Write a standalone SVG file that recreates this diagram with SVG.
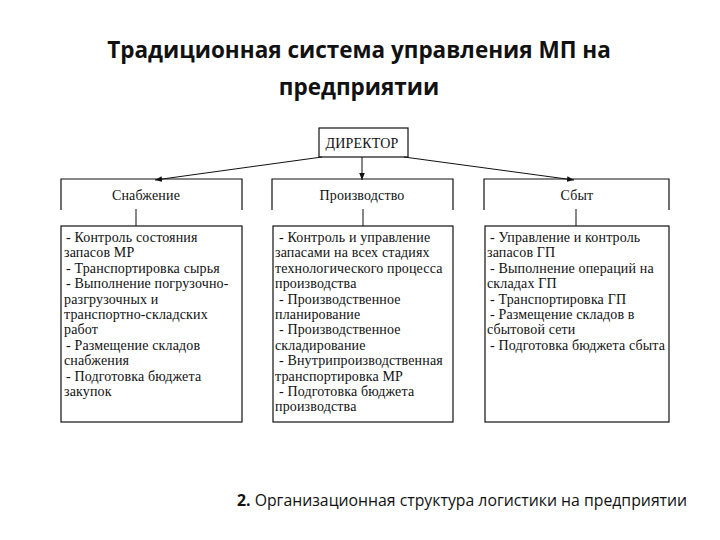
<svg xmlns="http://www.w3.org/2000/svg" width="720" height="540" viewBox="0 0 720 540">
<style>
.title{font-family:"Open Sans","Liberation Sans",sans-serif;font-weight:bold;font-size:22.5px;fill:#111;text-anchor:middle}
.cap{font-family:"Open Sans","Liberation Sans",sans-serif;font-size:15.8px;fill:#111}
.lbl{font-family:"Liberation Serif","DejaVu Serif",serif;font-size:14px;letter-spacing:0.15px;fill:#111}
.ctr{text-anchor:middle}
.box{fill:none;stroke:#111;stroke-width:1.2}
.ln{fill:none;stroke:#111;stroke-width:1}
</style>
<defs>
<marker id="ah" viewBox="0 0 10 10" refX="10" refY="5" markerWidth="7" markerHeight="7" orient="auto" markerUnits="userSpaceOnUse">
<path d="M0,1 L10,5 L0,9 z" fill="#111"/>
</marker>
</defs>
<rect width="720" height="540" fill="#fff"/>
<text class="title" x="359" y="58">Традиционная система управления МП на</text>
<text class="title" x="359" y="95">предприятии</text>

<g id="director">
<rect class="box" x="319" y="128" width="89" height="29"/>
<text class="lbl ctr" x="362" y="148">ДИРЕКТОР</text>
</g>

<g id="supply">
<path class="box" d="M61,210 V179 H242 V210"/>
<text class="lbl ctr" x="146" y="200">Снабжение</text>
<rect class="box" x="61" y="226" width="181" height="196"/>
<text class="lbl" y="242">
<tspan x="66">- Контроль состояния</tspan>
<tspan x="64" dy="15.4">запасов МР</tspan>
<tspan x="66" dy="15.4">- Транспортировка сырья</tspan>
<tspan x="66" dy="15.4">- Выполнение погрузочно-</tspan>
<tspan x="64" dy="15.4">разгрузочных и</tspan>
<tspan x="64" dy="15.4">транспортно-складских</tspan>
<tspan x="64" dy="15.4">работ</tspan>
<tspan x="66" dy="15.4">- Размещение складов</tspan>
<tspan x="64" dy="15.4">снабжения</tspan>
<tspan x="66" dy="15.4">- Подготовка бюджета</tspan>
<tspan x="64" dy="15.4">закупок</tspan>
</text>
</g>

<g id="production">
<path class="box" d="M272,210 V179 H453 V210"/>
<text class="lbl ctr" x="362" y="200">Производство</text>
<rect class="box" x="273" y="226" width="180" height="196"/>
<text class="lbl" y="242">
<tspan x="279">- Контроль и управление</tspan>
<tspan x="275" dy="15.4">запасами на всех стадиях</tspan>
<tspan x="275" dy="15.4">технологического процесса</tspan>
<tspan x="275" dy="15.4">производства</tspan>
<tspan x="279" dy="15.4">- Производственное</tspan>
<tspan x="275" dy="15.4">планирование</tspan>
<tspan x="279" dy="15.4">- Производственное</tspan>
<tspan x="275" dy="15.4">складирование</tspan>
<tspan x="279" dy="15.4">- Внутрипроизводственная</tspan>
<tspan x="275" dy="15.4">транспортировка МР</tspan>
<tspan x="279" dy="15.4">- Подготовка бюджета</tspan>
<tspan x="275" dy="15.4">производства</tspan>
</text>
</g>

<g id="sales">
<path class="box" d="M484,210 V179 H669 V210"/>
<text class="lbl ctr" x="577" y="200">Сбыт</text>
<rect class="box" x="485" y="226" width="184" height="196"/>
<text class="lbl" y="242">
<tspan x="490">- Управление и контроль</tspan>
<tspan x="487" dy="15.4">запасов ГП</tspan>
<tspan x="490" dy="15.4">- Выполнение операций на</tspan>
<tspan x="487" dy="15.4">складах ГП</tspan>
<tspan x="490" dy="15.4">- Транспортировка ГП</tspan>
<tspan x="490" dy="15.4">- Размещение складов в</tspan>
<tspan x="487" dy="15.4">сбытовой сети</tspan>
<tspan x="490" dy="15.4">- Подготовка бюджета сбыта</tspan>
</text>
</g>

<g id="connectors">
<path class="ln" d="M322,157 L155,180" marker-end="url(#ah)"/>
<path class="ln" d="M362,157 L362,180" marker-end="url(#ah)"/>
<path class="ln" d="M404,157 L574,180" marker-end="url(#ah)"/>
<path class="ln" d="M136,209 V226"/>
<path class="ln" d="M363,209 V226"/>
<path class="ln" d="M576,209 V226"/>
</g>

<text class="cap" x="237" y="506"><tspan font-weight="bold">2.</tspan> Организационная структура логистики на предприятии</text>
</svg>
